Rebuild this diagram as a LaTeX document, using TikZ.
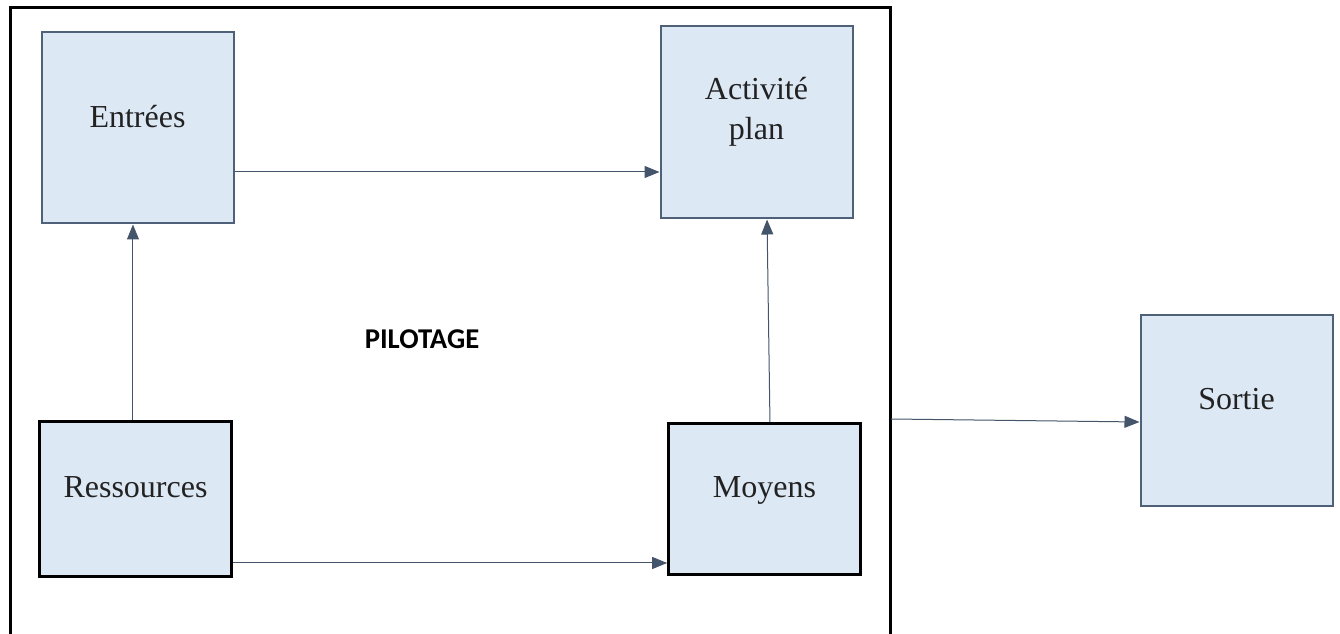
\documentclass[tikz,border=0pt]{standalone}
\usepackage{fontspec}
\setmainfont{Liberation Serif}
\newfontfamily\labelsans{Carlito}
\usetikzlibrary{arrows.meta}
\definecolor{boxfill}{HTML}{DDE8F5}
\definecolor{boxedge}{HTML}{4F6079}
\definecolor{linkcol}{HTML}{44546A}
\definecolor{inkcol}{HTML}{222222}
\tikzset{
  block/.style={draw=boxedge, line width=1.5pt, fill=boxfill, inner sep=0pt},
  strongblock/.style={block, draw=black, line width=2pt},
  blocktext/.style={font=\fontsize{24}{30}\selectfont, text=inkcol, inner sep=0pt, align=center},
  link/.style={draw=linkcol, line width=0.75pt, -{Triangle[length=11.25pt, width=9pt]}},
  framecol/.style={draw=black, line width=2.25pt}
}
\begin{document}
\begin{tikzpicture}[x=0.75pt, y=-0.75pt]
  \useasboundingbox (0,0) rectangle (1340,634);

  % outer control frame (open at the bottom of the page)
  \draw[framecol] (10,640) -- (10,8) -- (890,8) -- (890,640);
  \coordinate (frameexit) at (891,419);

  % blocks
  \node[block, minimum width=144pt, minimum height=143.25pt] (entrees) at (137.5,128) {};
  \node[block, minimum width=144pt, minimum height=144pt] (activite) at (756.5,122.5) {};
  \node[strongblock, minimum width=144pt, minimum height=116.25pt] (ressources) at (135.5,499) {};
  \node[strongblock, minimum width=144pt, minimum height=113.25pt] (moyens) at (764.5,499) {};
  \node[block, minimum width=144pt, minimum height=143.25pt] (sortie) at (1236.5,411) {};

  % block captions
  \node[blocktext, anchor=base] (entreesT) at (entrees.center) {Entrées};
  \node[blocktext] (activiteT) at (756.5,112) {Activité\\plan};
  \node[blocktext, anchor=base] (ressourcesT) at ([yshift=0.75pt]ressources.center) {Ressources};
  \node[blocktext, anchor=base] (moyensT) at ([yshift=0.75pt]moyens.center) {Moyens};
  \node[blocktext, anchor=base] (sortieT) at ([yshift=0.75pt]sortie.center) {Sortie};

  \node[font=\labelsans\bfseries\fontsize{21.5}{26}\selectfont, anchor=base, inner sep=0pt] (pilotage) at (422,349) {PILOTAGE};

  % connectors
  \coordinate (e1) at ([yshift=-33pt]entrees.east);
  \draw[link] (e1) -- (e1 -| activite.west);

  \coordinate (r1) at ([xshift=-1.9pt]ressources.north);
  \draw[link] (r1) -- (r1 |- entrees.south);

  \coordinate (r2) at ([yshift=-48pt]ressources.east);
  \draw[link] (r2) -- (r2 -| moyens.west);

  \coordinate (m1) at ([xshift=4.1pt]moyens.north);
  \coordinate (a1) at ([xshift=7.9pt]activite.south);
  \draw[link] (m1) -- (a1);

  \coordinate (s1) at ([yshift=-8.25pt]sortie.west);
  \draw[link] (frameexit) -- (s1);
\end{tikzpicture}
\end{document}
